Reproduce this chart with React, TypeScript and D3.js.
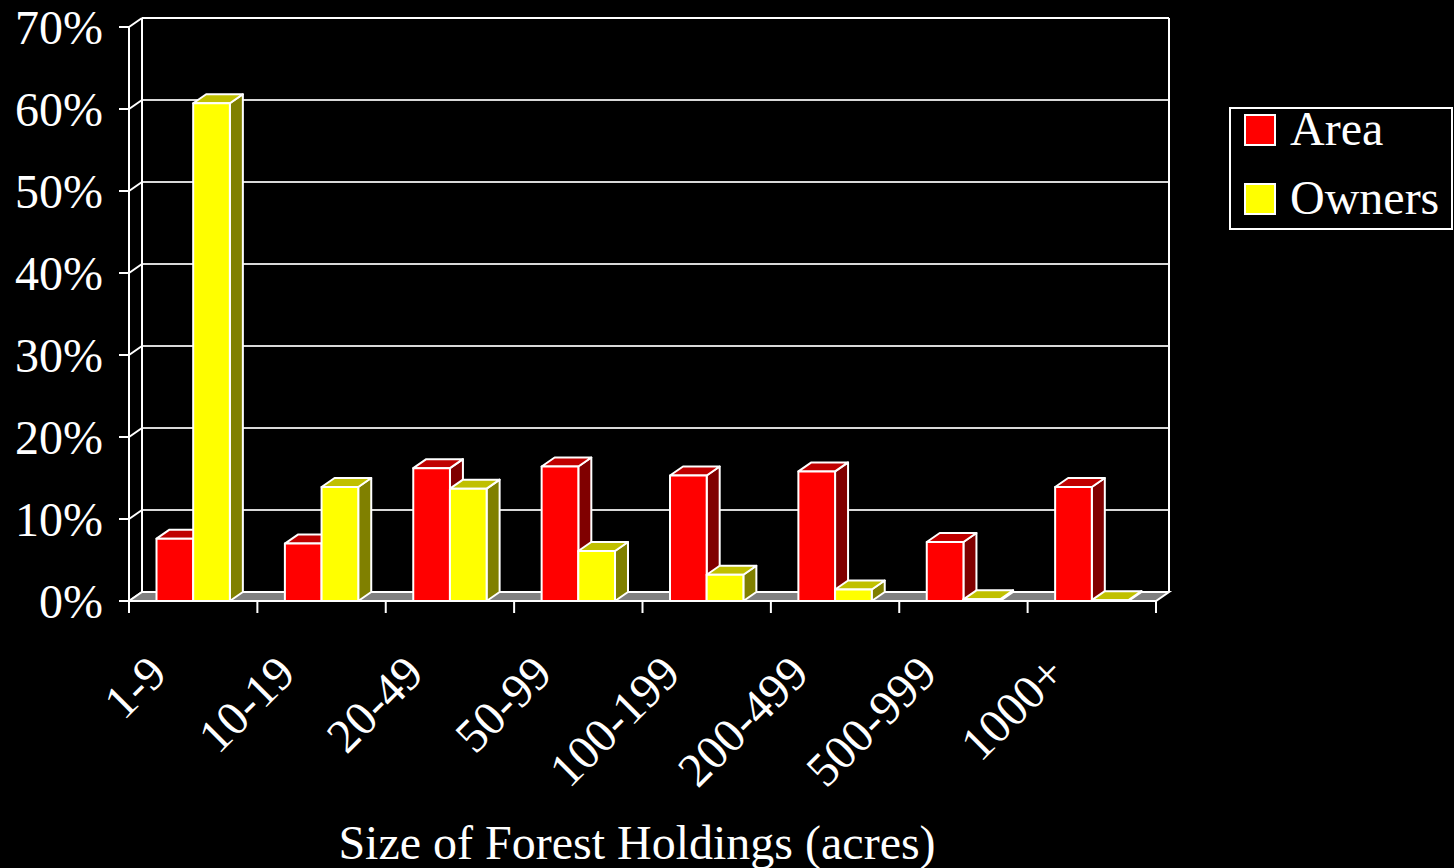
import React from "react";
import * as d3 from "d3";

const categories = ["1-9", "10-19", "20-49", "50-99", "100-199", "200-499", "500-999", "1000+"];
const seriesNames = ["Area", "Owners"];
const areaValues = [7.6, 7.0, 16.2, 16.4, 15.3, 15.8, 7.2, 13.9];
const ownersValues = [60.7, 13.9, 13.7, 6.1, 3.2, 1.4, 0.2, 0.1];
const yTicks = [0, 10, 20, 30, 40, 50, 60, 70];
const xTitle = "Size of Forest Holdings (acres)";

const seriesColors = {
  Area: { front: "#FF0000", top: "#C00000", side: "#800000" },
  Owners: { front: "#FFFF00", top: "#C0C000", side: "#808000" },
};

const W = 1454;
const H = 868;
const DX = 13;
const DY = -9;
const FONT = "'Liberation Serif', 'Times New Roman', serif";

export default function App() {
  const x = d3.scaleBand<string>().domain(categories).range([129, 1156]).paddingInner(0).paddingOuter(0);
  const inner = d3
    .scaleBand<string>()
    .domain(seriesNames)
    .range([0, x.bandwidth()])
    .paddingInner(0)
    .paddingOuter(0.75);
  const y = d3.scaleLinear().domain([0, 70]).range([601, 27]);
  const x0 = x.range()[0];
  const x1 = x.range()[1];
  const y0 = y(0);
  const yTop = y(70);

  const data = seriesNames.map((s, si) => ({
    name: s,
    values: si === 0 ? areaValues : ownersValues,
  }));

  const bars: any[] = [];
  categories.forEach((c, ci) => {
    data.forEach((s) => {
      const v = s.values[ci];
      const bx = (x(c) as number) + (inner(s.name) as number);
      const bw = inner.bandwidth();
      const by = y(v);
      const col = (seriesColors as any)[s.name];
      const front = `M${bx},${y0}L${bx},${by}L${bx + bw},${by}L${bx + bw},${y0}Z`;
      const top = `M${bx},${by}L${bx + DX},${by + DY}L${bx + bw + DX},${by + DY}L${bx + bw},${by}Z`;
      const side = `M${bx + bw},${y0}L${bx + bw},${by}L${bx + bw + DX},${by + DY}L${bx + bw + DX},${y0 + DY}Z`;
      bars.push(
        <g key={`${c}-${s.name}`}>
          <path d={side} fill={col.side} stroke="#fff" strokeWidth={2} strokeLinejoin="round" />
          <path d={top} fill={col.top} stroke="#fff" strokeWidth={2} strokeLinejoin="round" />
          <path d={front} fill={col.front} stroke="#fff" strokeWidth={2} strokeLinejoin="round" />
        </g>
      );
    });
  });

  const tickXs = [...categories.map((c) => x(c) as number), x1];

  return (
    <svg
      width={W}
      height={H}
      style={{ position: "absolute", left: 0, top: 0, background: "#000" }}
      fontFamily={FONT}
    >
      <rect x={0} y={0} width={W} height={H} fill="#000" />
      {/* back wall gridlines */}
      {yTicks.map((t) => (
        <line
          key={`g${t}`}
          x1={x0 + DX}
          x2={x1 + DX}
          y1={y(t) + DY}
          y2={y(t) + DY}
          stroke={t === 70 ? "#fff" : "#d8d8d8"}
          strokeWidth={2}
        />
      ))}
      {/* left wall */}
      <line x1={x0 + DX} x2={x0 + DX} y1={yTop + DY} y2={y0 + DY} stroke="#fff" strokeWidth={2} />
      <line x1={x1 + DX} x2={x1 + DX} y1={yTop + DY} y2={y0 + DY} stroke="#fff" strokeWidth={2} />
      {yTicks.map((t) => (
        <line key={`d${t}`} x1={x0} y1={y(t)} x2={x0 + DX} y2={y(t) + DY} stroke="#fff" strokeWidth={2} />
      ))}
      {/* floor */}
      <path
        d={`M${x0},${y0}L${x0 + DX},${y0 + DY}L${x1 + DX},${y0 + DY}L${x1},${y0}Z`}
        fill="#808080"
        stroke="#fff"
        strokeWidth={2}
      />
      {bars}
      {/* front axes */}
      <line x1={x0} x2={x0} y1={yTop} y2={y0} stroke="#fff" strokeWidth={2} />
      <line x1={x0 - 10} x2={x1} y1={y0} y2={y0} stroke="#fff" strokeWidth={2} />
      {yTicks.map((t) => (
        <g key={`yt${t}`}>
          <line x1={x0 - 10} x2={x0} y1={y(t)} y2={y(t)} stroke="#fff" strokeWidth={2} />
          <text x={103} y={y(t)} dy="0.35em" textAnchor="end" fill="#fff" fontSize={48}>
            {`${t}%`}
          </text>
        </g>
      ))}
      {tickXs.map((tx, i) => (
        <line key={`xt${i}`} x1={tx} x2={tx} y1={y0} y2={y0 + 12} stroke="#fff" strokeWidth={2} />
      ))}
      {categories.map((c) => (
        <text
          key={`xl${c}`}
          transform={`translate(${(x(c) as number) + 40},${676}) rotate(-45)`}
          textAnchor="end"
          fill="#fff"
          fontSize={48}
        >
          {c}
        </text>
      ))}
      <text x={637} y={859} textAnchor="middle" fill="#fff" fontSize={48}>
        {xTitle}
      </text>
      {/* legend */}
      <rect x={1230} y={108} width={222} height={121} fill="#000" stroke="#fff" strokeWidth={2} />
      {seriesNames.map((s, i) => (
        <g key={`lg${s}`}>
          <rect
            x={1245}
            y={115 + i * 69}
            width={30}
            height={30}
            fill={(seriesColors as any)[s].front}
            stroke="#fff"
            strokeWidth={2}
          />
          <text x={1290} y={145 + i * 69} fill="#fff" fontSize={48}>
            {s}
          </text>
        </g>
      ))}
    </svg>
  );
}
